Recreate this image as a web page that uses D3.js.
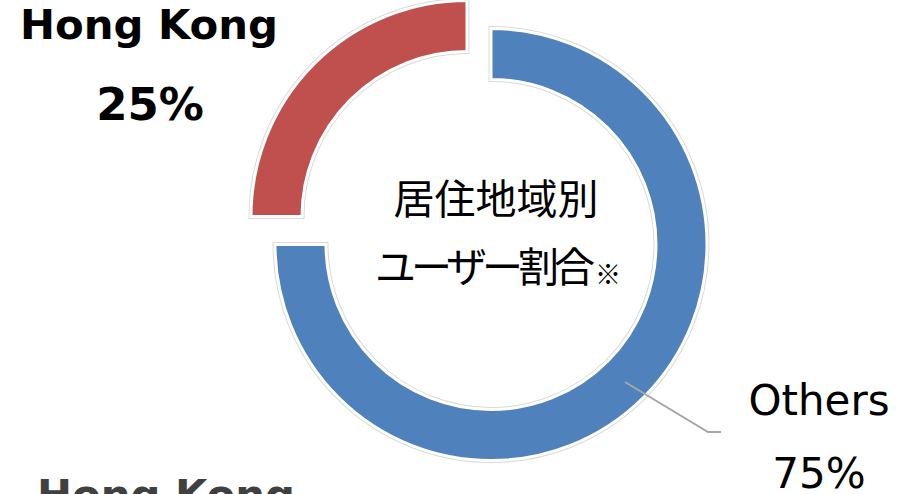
<!DOCTYPE html>
<html><head><meta charset="utf-8">
<script src="https://cdn.jsdelivr.net/npm/d3@7"></script>
<style>html,body{margin:0;padding:0;background:#fff;}svg{display:block;}</style>
</head><body>
<svg id="chart" width="904" height="494"></svg>
<script>
const categories = ["Others", "Hong Kong"];
const shares = [75, 25];
const shareLabels = ["75%", "25%"];
const colors = ["#4F81BD", "#C0504D"];
const centerTitle = ["居住地域別", "ユーザー割合"];
const noteMark = "※";

const svg = d3.select("#chart");
const cx = 491, cy = 244.5, outerR = 216, innerR = 165;

const pie = d3.pie().sort(null).value(d => d.v);
const arcs = pie(categories.map((c, i) => ({c, v: shares[i], color: colors[i]})));
const arc = d3.arc().innerRadius(innerR).outerRadius(outerR);

// explode offsets (Hong Kong pulled out)
const offsets = [[0, 0], [-24, -28]];

const g = svg.append("g").attr("transform", `translate(${cx},${cy})`);
arcs.forEach((a, i) => {
  const sg = g.append("g").attr("transform", `translate(${offsets[i][0]},${offsets[i][1]})`);
  sg.append("path").attr("d", arc(a)).attr("fill", "none").attr("stroke", "#dadada").attr("stroke-width", 5);
  sg.append("path").attr("d", arc(a)).attr("fill", a.data.color).attr("stroke", "#ffffff").attr("stroke-width", 3);
});

// leader line for Others
svg.append("polyline")
  .attr("points", "625,382 708,432 721,432")
  .attr("fill", "none").attr("stroke", "#a6a6a6").attr("stroke-width", 2);

// center title
svg.append("text").attr("x", 496).attr("y", 214).attr("text-anchor", "middle")
  .attr("font-family", "'Noto Sans CJK JP'").attr("font-size", 41).attr("fill", "#000")
  .text(centerTitle[0]);
svg.append("text").attr("x", 375).attr("y", 282)
  .attr("font-family", "'Noto Sans CJK JP'").attr("font-size", 41).attr("fill", "#000")
  .attr("textLength", 220).attr("lengthAdjust", "spacing")
  .text(centerTitle[1]);
svg.append("text").attr("x", 595).attr("y", 284)
  .attr("font-family", "'Noto Sans CJK JP'").attr("font-size", 26).attr("fill", "#000")
  .text(noteMark);

// Hong Kong label (top-left)
svg.append("text").attr("x", 149).attr("y", 39).attr("text-anchor", "middle")
  .attr("font-family", "'DejaVu Sans'").attr("font-weight", "bold").attr("font-size", 40)
  .attr("textLength", 258).attr("lengthAdjust", "spacingAndGlyphs").attr("fill", "#000")
  .text(categories[1]);
svg.append("text").attr("x", 150).attr("y", 120).attr("text-anchor", "middle")
  .attr("font-family", "'DejaVu Sans'").attr("font-weight", "bold").attr("font-size", 45).attr("fill", "#000")
  .text(shareLabels[1]);

// Others label
svg.append("text").attr("x", 819).attr("y", 415).attr("text-anchor", "middle")
  .attr("font-family", "'DejaVu Sans'").attr("font-size", 42).attr("fill", "#000")
  .text(categories[0]);
svg.append("text").attr("x", 819).attr("y", 488).attr("text-anchor", "middle")
  .attr("font-family", "'DejaVu Sans'").attr("font-size", 42).attr("fill", "#000")
  .text(shareLabels[0]);

// cut-off label of the next chart below
svg.append("text").attr("x", 166).attr("y", 509).attr("text-anchor", "middle")
  .attr("font-family", "'DejaVu Sans'").attr("font-weight", "bold").attr("font-size", 40)
  .attr("textLength", 258).attr("lengthAdjust", "spacingAndGlyphs").attr("fill", "#404040")
  .text(categories[1]);
</script>
</body></html>
